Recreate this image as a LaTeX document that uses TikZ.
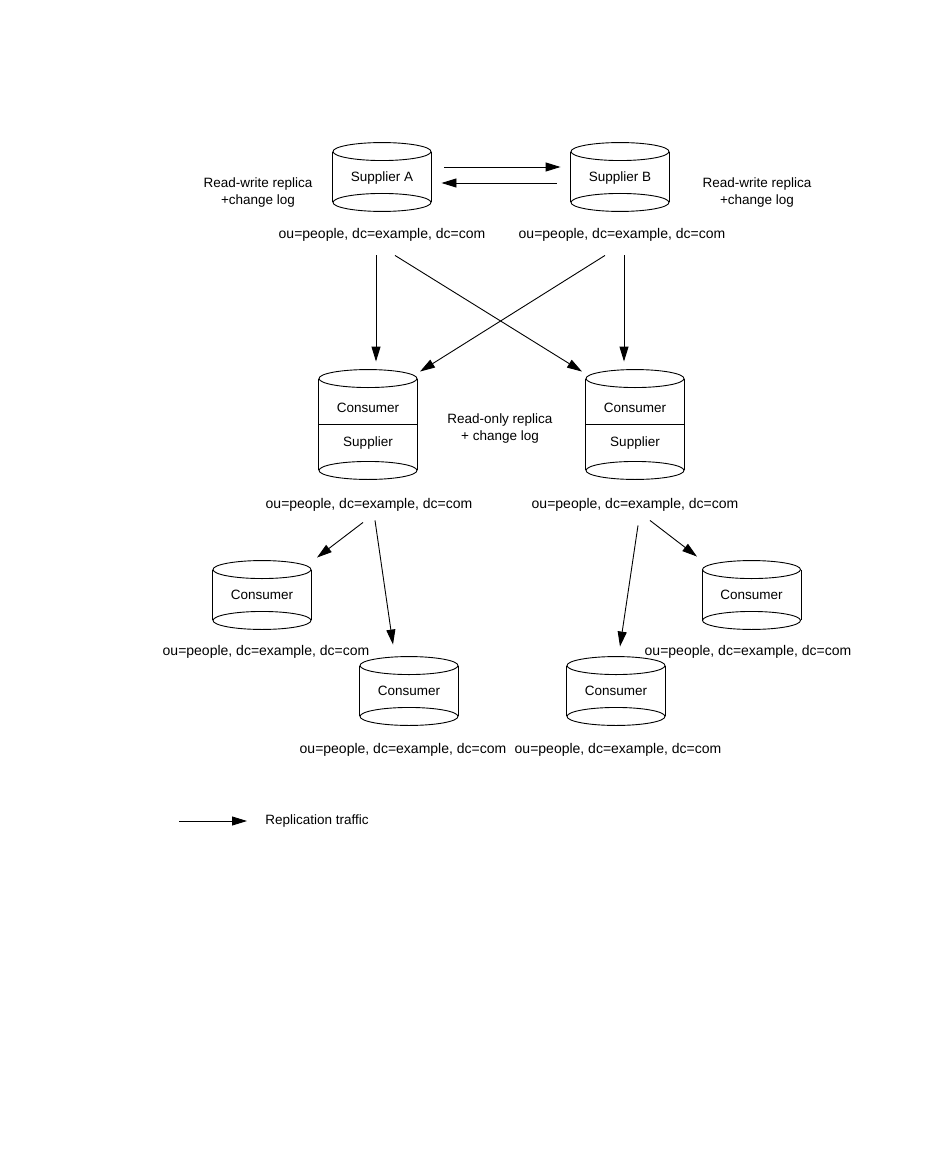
\documentclass[tikz,border=0pt]{standalone}
\usepackage{fontspec}
\setmainfont{Liberation Sans}
\usetikzlibrary{arrows.meta}
\newcommand{\dbfont}{\fontsize{13.5}{17}\selectfont}
\newcommand{\lblfont}{\fontsize{14}{17}\selectfont}
\tikzstyle{dbnode} = [rectangle, 
minimum width=98pt, 
minimum height=50pt, 
inner sep=0pt, 
align=center, 
text depth=0pt, 
font=\dbfont]
\tikzstyle{dnlabel} = [inner sep=0pt, font=\lblfont]
\tikzstyle{note} = [inner sep=0pt, align=center, font=\dbfont]
\tikzstyle{arrow} = [line width=0.9pt, -{Triangle[length=15pt,width=9pt]}]
% outline of a database drum round a node
\newcommand{\dbshape}[1]{%
  \draw (#1.north) ellipse [x radius=49pt, y radius=9pt];
  \draw (#1.south) ellipse [x radius=49pt, y radius=9pt];
  \draw (#1.north west) -- (#1.south west) (#1.north east) -- (#1.south east);}

\begin{document}
\begin{tikzpicture}[x=1pt, y=-1pt, line width=0.9pt]
    \useasboundingbox (0,0) rectangle (950,1161);

    % Suppliers
    \node (sA) [dbnode] at (382,177) {Supplier A};
    \node (sB) [dbnode] at (620,177) {Supplier B};
    \dbshape{sA}
    \dbshape{sB}
    \node (rwA) [note] at (258,193) {Read-write replica\\+change log};
    \node (rwB) [note] at (757,193) {Read-write replica\\+change log};
    \node (lA) [dnlabel] at (382,235) {ou=people, dc=example, dc=com};
    \node (lB) [dnlabel] at (622,235) {ou=people, dc=example, dc=com};

    % Hubs
    \node (cML) [dbnode, minimum height=91pt] at (368,424.5) {Consumer\\[17pt]Supplier};
    \node (cMR) [dbnode, minimum height=91pt] at (635,424.5) {Consumer\\[17pt]Supplier};
    \dbshape{cML}
    \dbshape{cMR}
    \draw (cML.west) -- (cML.east);
    \draw (cMR.west) -- (cMR.east);
    \node (ro) [note] at (500,429) {Read-only replica\\+ change log};
    \node (lML) [dnlabel] at (369,505) {ou=people, dc=example, dc=com};
    \node (lMR) [dnlabel] at (635,505) {ou=people, dc=example, dc=com};

    % Consumers
    \node (cBL1) [dbnode] at (262,595) {Consumer};
    \node (cBL2) [dbnode] at (409,691) {Consumer};
    \node (cBR2) [dbnode] at (616,691) {Consumer};
    \node (cBR1) [dbnode] at (751.5,595) {Consumer};
    \dbshape{cBL1}
    \dbshape{cBL2}
    \dbshape{cBR2}
    \dbshape{cBR1}
    \node (lBL1) [dnlabel] at (266,652) {ou=people, dc=example, dc=com};
    \node (lBL2) [dnlabel] at (403,750) {ou=people, dc=example, dc=com};
    \node (lBR2) [dnlabel] at (618,750) {ou=people, dc=example, dc=com};
    \node (lBR1) [dnlabel] at (748,652) {ou=people, dc=example, dc=com};

    % Supplier to supplier
    \draw [arrow] ([xshift=13pt, yshift=10pt]sA.east) -- ([xshift=-10pt, yshift=10pt]sB.west);
    \draw [arrow] ([xshift=-14pt, yshift=-6pt]sB.west) -- ([xshift=10pt, yshift=-6pt]sA.east);

    % Suppliers to hubs
    \draw [arrow] ([xshift=-6pt, yshift=-53pt]sA.south) -- ([xshift=8pt, yshift=17pt]cML.north);
    \draw [arrow] ([xshift=13pt, yshift=-53pt]sA.south) -- ([xshift=-53pt, yshift=7pt]cMR.north);
    \draw [arrow] ([xshift=-15pt, yshift=-53pt]sB.south) -- ([xshift=52pt, yshift=7pt]cML.north);
    \draw [arrow] ([xshift=4pt, yshift=-53pt]sB.south) -- ([xshift=-11pt, yshift=17pt]cMR.north);

    % Hubs to consumers
    \draw [arrow] ([xshift=-5pt, yshift=-52pt]cML.south) -- ([xshift=55pt, yshift=12pt]cBL1.north);
    \draw [arrow] ([xshift=7pt, yshift=-50pt]cML.south) -- ([xshift=-16pt, yshift=21pt]cBL2.north);
    \draw [arrow] ([xshift=3pt, yshift=-55pt]cMR.south) -- ([xshift=4pt, yshift=19pt]cBR2.north);
    \draw [arrow] ([xshift=15pt, yshift=-50pt]cMR.south) -- ([xshift=-54.5pt, yshift=13pt]cBR1.north);

    % Legend
    \coordinate (legS) at (179,821);
    \node (legT) [note, anchor=west] at (265,821) {Replication traffic};
    \draw [arrow] (legS) -- ([xshift=-18pt]legT.west);
  \end{tikzpicture}
\end{document}
